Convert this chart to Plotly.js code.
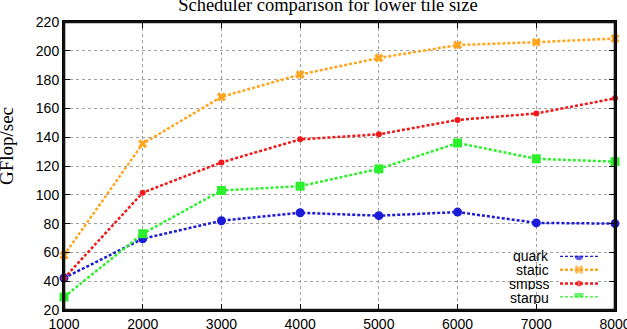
<!DOCTYPE html>
<html>
<head>
<meta charset="utf-8">
<script src="https://cdn.plot.ly/plotly-3.0.1.min.js"></script>
<style>
  html, body { margin: 0; padding: 0; background: #fff; overflow: hidden; }
  #chart { width: 627px; height: 329px; }
</style>
</head>
<body>
<div id="chart"></div>
<script>
// Matrix sizes (x axis) and measured throughput per scheduler, in GFlop/sec
const sizes = [1000, 2000, 3000, 4000, 5000, 6000, 7000, 8000];
const quark  = [42.2, 69.5, 82.0, 87.5, 85.5, 88.0, 80.5, 80.0];
const staticSched = [58.0, 135.5, 168.0, 183.5, 195.0, 204.0, 206.0, 208.5];
const smpss  = [42.0, 101.5, 122.5, 138.5, 142.0, 152.0, 156.5, 167.0];
const starpu = [29.0, 73.0, 103.0, 106.0, 118.0, 136.0, 125.0, 123.0];
const xTicks = [1000, 2000, 3000, 4000, 5000, 6000, 7000, 8000];
const yTicks = [20, 40, 60, 80, 100, 120, 140, 160, 180, 200, 220];
const names  = ['quark', 'static', 'smpss', 'starpu'];

const styles = [
  { color: '#1c1cd8', symbol: 'circle', size: 9 },
  { color: '#ffa51e', symbol: 'x', size: 8 },
  { color: '#f01818', symbol: 'circle', size: 6 },
  { color: '#2cf02c', symbol: 'square', size: 9 }
];
const values = [quark, staticSched, smpss, starpu];

const sansFont = 'Liberation Sans, Arial, sans-serif';
const serifFont = 'Liberation Serif, Times New Roman, serif';
const dash = '3px,2px';

const traces = values.map((ys, i) => ({
  type: 'scatter', mode: 'lines+markers', name: names[i],
  x: sizes, y: ys, showlegend: false, cliponaxis: false,
  line: { color: styles[i].color, width: 2.5, dash: dash },
  marker: { color: styles[i].color, symbol: styles[i].symbol, size: styles[i].size, line: { width: 0 } }
}));

// Gnuplot-style key: label on the left, line sample with marker on the right.
// The key lives on its own small overlay axes (rows 0..3, top row = first series).
names.forEach((n, i) => {
  const row = names.length - 1 - i;
  traces.push({
    type: 'scatter', mode: 'lines+markers', xaxis: 'x2', yaxis: 'y2',
    x: [0, 0.5, 1], y: [row, row, row], showlegend: false, hoverinfo: 'skip',
    line: { color: styles[i].color, width: 2.5, dash: dash },
    marker: { color: styles[i].color, symbol: styles[i].symbol, size: [0, styles[i].size, 0], line: { width: 0 } }
  });
});

const keyDomainY = [0.0434, 0.1885];
const keyAnnotations = names.map((n, i) => {
  const row = names.length - 1 - i;
  return {
    text: n, showarrow: false, xref: 'paper', yref: 'paper',
    x: 0.8838, xanchor: 'right', height: 13,
    y: keyDomainY[0] + (keyDomainY[1] - keyDomainY[0]) * row / 3, yanchor: 'middle',
    font: { family: sansFont, size: 14, color: '#000' }
  };
});

const axisCommon = {
  showline: true, linecolor: '#000', linewidth: 2, mirror: 'ticks',
  ticks: 'inside', ticklen: 6, tickwidth: 1, tickcolor: '#000',
  showgrid: true, gridcolor: '#a0a0a0', griddash: 'dot', gridwidth: 1,
  zeroline: false, ticklabeloverflow: 'allow',
  tickfont: { family: sansFont, size: 14, color: '#000' }
};

const layout = {
  width: 627, height: 329,
  margin: { l: 64, r: 12, t: 22, b: 19 },
  paper_bgcolor: '#fff', plot_bgcolor: '#fff',
  title: {
    text: 'Scheduler comparison for lower tile size',
    font: { family: serifFont, size: 18.5, color: '#000' },
    x: 0.523, xanchor: 'center', y: 0.986, yanchor: 'middle'
  },
  xaxis: Object.assign({}, axisCommon, {
    range: [1000, 8000], tickvals: xTicks, ticktext: xTicks.map(String)
  }),
  yaxis: Object.assign({}, axisCommon, {
    range: [20, 220], tickvals: yTicks, ticktext: yTicks.map(String)
  }),
  xaxis2: {
    domain: [0.9002, 0.9691], range: [0, 1], anchor: 'y2',
    visible: false, fixedrange: true
  },
  yaxis2: {
    domain: keyDomainY, range: [0, 3], anchor: 'x2',
    visible: false, fixedrange: true
  },
  // Plot frame on all four sides
  shapes: [{
    type: 'rect', xref: 'paper', yref: 'paper', x0: 0, x1: 1, y0: 0, y1: 1,
    line: { color: '#111', width: 2.6 }, fillcolor: 'rgba(0,0,0,0)', layer: 'above'
  }],
  annotations: keyAnnotations.concat([{
    text: 'GFlop/sec', showarrow: false, textangle: -90,
    xref: 'paper', yref: 'paper', x: -0.103, xanchor: 'center', y: 0.57, yanchor: 'middle',
    font: { family: serifFont, size: 19, color: '#000' }
  }]),
  showlegend: false
};

Plotly.newPlot('chart', traces, layout, { displayModeBar: false, staticPlot: true });
</script>
</body>
</html>
